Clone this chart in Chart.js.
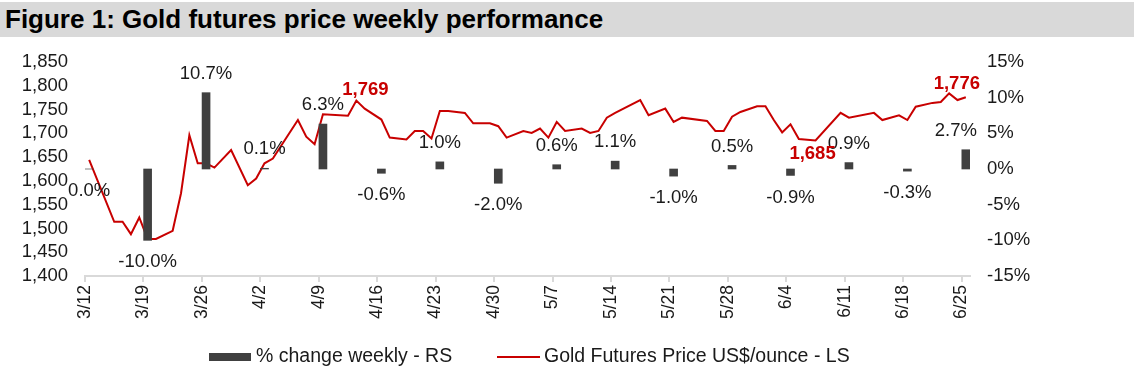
<!DOCTYPE html>
<html><head><meta charset="utf-8">
<script src="https://cdn.jsdelivr.net/npm/chart.js@4.4.1/dist/chart.umd.min.js"></script>
<style>
html,body{margin:0;padding:0;background:#fff;width:1134px;height:372px;overflow:hidden;}
#title{position:absolute;left:0;top:2px;width:1134px;height:35px;background:#d9d9d9;font:bold 26px "Liberation Sans",Arial,sans-serif;color:#000;line-height:35px;padding-left:5px;box-sizing:border-box;white-space:nowrap;}
#wrap{position:absolute;left:0;top:37px;width:1134px;height:335px;}
</style></head><body>
<div id="title">Figure 1: Gold futures price weekly performance</div>
<div id="wrap"><canvas id="c" width="1134" height="335"></canvas></div>
<script>
// ---- data ----
const weekLabels = ['3/12','3/19','3/26','4/2','4/9','4/16','4/23','4/30','5/7','5/14','5/21','5/28','6/4','6/11','6/18','6/25'];
const weeklyChange = [0.0,-10.0,10.7,0.1,6.3,-0.6,1.0,-2.0,0.6,1.1,-1.0,0.5,-0.9,0.9,-0.3,2.7];
const priceDates = ['3/12','3/15','3/16','3/17','3/18','3/19','3/20','3/22','3/23','3/24','3/25','3/26','3/27','3/29','3/31',
  '4/1','4/2','4/3','4/6','4/7','4/8','4/9','4/12','4/13','4/14','4/16','4/17','4/19','4/20','4/21','4/22','4/23','4/24','4/26','4/27','4/29','4/30',
  '5/1','5/3','5/4','5/5','5/6','5/7','5/8','5/10','5/11','5/12','5/13','5/14','5/17','5/18','5/20','5/21','5/22','5/25','5/26','5/27','5/28','5/29','5/31',
  '6/1','6/2','6/3','6/4','6/5','6/7','6/10','6/11','6/14','6/15','6/17','6/18','6/19','6/21','6/22','6/23','6/24','6/25'];
const priceValues = [1644,1514,1514,1488,1523,1478,1478,1495,1574,1696,1637,1637,1628,1665,1591,
  1605,1637,1647,1728,1693,1677,1740,1737,1769,1752,1729,1691,1687,1705,1705,1689,1747,1747,1743,1721,1721,1715,
  1691,1705,1701,1710,1691,1724,1705,1710,1701,1705,1733,1743,1770,1738,1752,1724,1733,1726,1705,1705,1735,1745,1757,
  1757,1728,1702,1719,1688,1685,1743,1733,1743,1728,1738,1728,1756,1764,1766,1784,1770,1776];
const highlightDates = ['4/13','6/7','6/25'];
const priceAxis = {min:1400, max:1850, step:50};
const pctAxis = {min:-15, max:15, step:5};
const seriesNames = ['% change weekly - RS','Gold Futures Price US$/ounce - LS'];

// ---- helpers ----
const FONT = '"Liberation Sans", Arial, sans-serif';
function dayIndex(s){const [m,d]=s.split('/').map(Number);return Math.round((Date.UTC(2020,m-1,d)-Date.UTC(2020,2,12))/86400000);}
const weekDays = weekLabels.map(dayIndex);
const BAR_COLOR = '#404040', LINE_COLOR = '#c80000', TEXT = '#1a1a1a';

const barLabels = {
  id:'barLabels',
  afterDatasetsDraw(chart){
    const meta = chart.getDatasetMeta(0), ctx = chart.ctx, area = chart.chartArea;
    ctx.save();
    ctx.font = '18.5px ' + FONT; ctx.fillStyle = TEXT;
    ctx.textAlign = 'center'; ctx.textBaseline = 'middle';
    meta.data.forEach((bar,i)=>{
      const v = weeklyChange[i];
      const txt = v.toFixed(1)+'%';
      const w = ctx.measureText(txt).width;
      const top = Math.min(bar.y,bar.base), bottom = Math.max(bar.y,bar.base);
      const x = Math.min(bar.x, area.right + 7 - w/2);
      ctx.fillText(txt, x, v > 0 ? top - 19 : bottom + 22);
    });
    ctx.restore();
  }
};
const peakLabels = {
  id:'peakLabels',
  afterDatasetsDraw(chart){
    const meta = chart.getDatasetMeta(1), ctx = chart.ctx;
    const offs = [[9,-11],[-3,13],[-9,-13]];
    ctx.save();
    ctx.font = 'bold 18.5px ' + FONT; ctx.fillStyle = LINE_COLOR;
    ctx.textAlign = 'center'; ctx.textBaseline = 'middle';
    highlightDates.forEach((d,k)=>{
      const i = priceDates.indexOf(d); const p = meta.data[i];
      ctx.fillText(priceValues[i].toLocaleString('en-US'), p.x + offs[k][0], p.y + offs[k][1]);
    });
    ctx.restore();
  }
};
const legendPlugin = {
  id:'customLegend',
  afterDraw(chart){
    const ctx = chart.ctx, y = 320;
    ctx.save();
    ctx.fillStyle = BAR_COLOR; ctx.fillRect(209, y-4, 42, 8);
    ctx.strokeStyle = LINE_COLOR; ctx.lineWidth = 2;
    ctx.beginPath(); ctx.moveTo(497,y); ctx.lineTo(540,y); ctx.stroke();
    ctx.font = '19.5px ' + FONT; ctx.fillStyle = TEXT; ctx.textBaseline = 'middle'; ctx.textAlign = 'left';
    ctx.fillText(seriesNames[0], 256, y);
    ctx.fillText(seriesNames[1], 544, y);
    ctx.restore();
  }
};

new Chart(document.getElementById('c'), {
  data: {
    datasets: [
      { type:'bar', label:seriesNames[0], yAxisID:'y1', xAxisID:'x',
        data: weeklyChange.map((v,i)=>({x: weekDays[i]+0.5, y: v})),
        backgroundColor: BAR_COLOR, barThickness: 8 },
      { type:'line', label:seriesNames[1], yAxisID:'y', xAxisID:'x',
        data: priceValues.map((v,i)=>({x: dayIndex(priceDates[i])+0.5, y: v})),
        borderColor: LINE_COLOR, borderWidth: 2, pointRadius: 0, tension: 0, fill:false }
    ]
  },
  options: {
    responsive:false, animation:false, devicePixelRatio:1,
    layout:{padding:{top:25,left:0,right:0,bottom:0}},
    plugins:{legend:{display:false}, tooltip:{enabled:false}},
    scales:{
      x:{ type:'linear', min:0, max:106, position:'bottom', offset:false,
        afterBuildTicks: s => { s.ticks = weekDays.map(v=>({value:v})); },
        ticks:{ autoSkip:false, minRotation:90, maxRotation:90, padding:3, color:TEXT,
          font:{family:FONT, size:17.5},
          callback: v => { const k = weekDays.indexOf(v); return k>=0 ? weekLabels[k] : ''; } },
        grid:{ drawOnChartArea:false, offset:false, color:'#d9d9d9', lineWidth:2, tickLength:6 },
        border:{ color:'#d9d9d9', width:2 },
        afterFit: s => { s.height = 96; } },
      y:{ position:'left', min:priceAxis.min, max:priceAxis.max,
        ticks:{ stepSize:priceAxis.step, autoSkip:false, padding:9, color:TEXT, font:{family:FONT,size:18.5},
          callback: v => v.toLocaleString('en-US') },
        grid:{display:false}, border:{display:false},
        afterFit: s => { s.width = 85; } },
      y1:{ position:'right', min:pctAxis.min, max:pctAxis.max,
        ticks:{ stepSize:pctAxis.step, autoSkip:false, padding:9, color:TEXT, font:{family:FONT,size:18.5},
          callback: v => v + '%' },
        grid:{display:false}, border:{display:false},
        afterFit: s => { s.width = 164; } }
    }
  },
  plugins:[barLabels, peakLabels, legendPlugin]
});
</script>
</body></html>
